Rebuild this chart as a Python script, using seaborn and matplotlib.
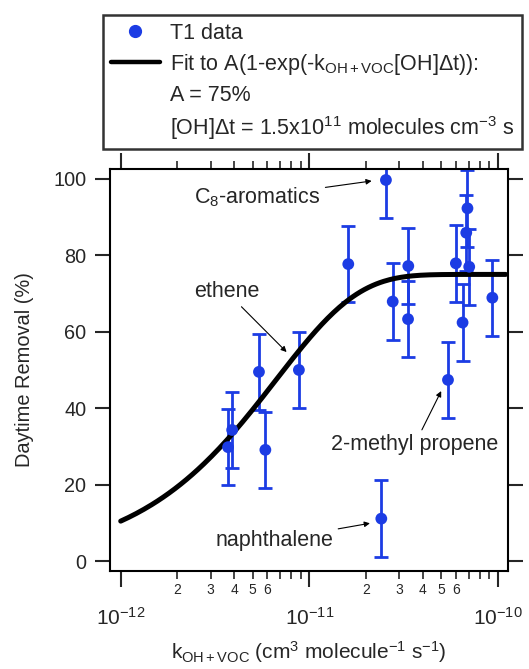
import numpy as np
import pandas as pd
import matplotlib
matplotlib.use("Agg")
import matplotlib.pyplot as plt
import seaborn as sns
from matplotlib.ticker import FixedLocator, FixedFormatter
from matplotlib.lines import Line2D

# ---- data ----
k_values = [3.71e-12, 3.9e-12, 5.41e-12, 5.85e-12, 8.81e-12, 1.61e-11, 2.55e-11,
            2.41e-11, 2.77e-11, 3.35e-11, 3.34e-11, 5.44e-11, 5.99e-11, 6.5e-11,
            6.9e-11, 6.8e-11, 7.05e-11, 9.35e-11]
removal = [29.8, 34.3, 49.5, 29.1, 50.0, 77.7, 99.7,
           11.1, 67.9, 77.2, 63.3, 47.4, 77.9, 62.4,
           92.3, 85.9, 77.0, 68.9]
removal_err = [10] * 18

fit_A = 75.0
fit_OHdt = 1.5e11
fit_k = np.logspace(-12, np.log10(1.1e-10), 200)
fit_y = fit_A * (1 - np.exp(-fit_k * fit_OHdt))

x_major = [1e-12, 1e-11, 1e-10]
x_major_labels = [r"$10^{-12}$", r"$10^{-11}$", r"$10^{-10}$"]
x_minor_mant = [2, 3, 4, 5, 6, 7, 8, 9]
x_minor_labelled = ["2", "3", "4", "5", "6", "", "", ""]
y_ticks = [0, 20, 40, 60, 80, 100]

labels = ["C$_8$-aromatics", "ethene", "2-methyl propene", "naphthalene"]
label_text_xy = [(5.32e-12, 95.3), (3.65e-12, 70.4), (3.61e-11, 30.4), (6.55e-12, 5.5)]
label_point_xy = [(2.33e-11, 99.7), (8.05e-12, 53.4), (5.2e-11, 46.1), (2.28e-11, 10.2)]

df = pd.DataFrame({"k": k_values, "removal": removal, "err": removal_err})
fit_df = pd.DataFrame({"k": fit_k, "y": fit_y})

# ---- style ----
sns.set_style("ticks")
plt.rcParams["font.family"] = ["Liberation Sans", "DejaVu Sans"]
plt.rcParams["mathtext.fontset"] = "custom"
plt.rcParams["mathtext.rm"] = "Liberation Sans"
plt.rcParams["mathtext.it"] = "Liberation Sans"
plt.rcParams["mathtext.bf"] = "Liberation Sans:bold"
plt.rcParams["mathtext.default"] = "regular"

blue = "#1c3ce4"

fig = plt.figure(figsize=(5.29, 6.69), dpi=100)
ax = fig.add_axes([0.208, 0.1465, 0.752, 0.601])

ax.errorbar(df["k"], df["removal"], yerr=df["err"], fmt="none", ecolor=blue,
            elinewidth=2.0, capsize=4.7, capthick=2.0, zorder=2)
sns.lineplot(data=fit_df, x="k", y="y", ax=ax, color="black", lw=3.6, zorder=3)
sns.scatterplot(data=df, x="k", y="removal", ax=ax, color=blue, s=72,
                edgecolor="none", zorder=4)

ax.set_xscale("log")
ax.set_xlim(10 ** -12.0566, 10 ** -9.947)
ax.set_ylim(-2.6, 102.6)

for txt, txy, pxy in zip(labels, label_text_xy, label_point_xy):
    ax.annotate(txt, xy=pxy, xytext=txy, ha="center", va="center",
                fontsize=15.5, zorder=5,
                arrowprops=dict(arrowstyle="-|>", color="black", lw=0.8,
                                mutation_scale=8, shrinkA=1, shrinkB=5))

# ticks
minor_pos, minor_lab = [], []
for dec in (1e-12, 1e-11):
    for m, lab in zip(x_minor_mant, x_minor_labelled):
        minor_pos.append(m * dec)
        minor_lab.append(lab)
ax.xaxis.set_major_locator(FixedLocator(x_major))
ax.xaxis.set_major_formatter(FixedFormatter(x_major_labels))
ax.xaxis.set_minor_locator(FixedLocator(minor_pos))
ax.xaxis.set_minor_formatter(FixedFormatter(minor_lab))
ax.set_yticks(y_ticks)

ax.tick_params(axis="x", which="major", direction="out", length=11.5, width=1.5,
               top=True, bottom=True, labelsize=15, pad=14)
ax.tick_params(axis="x", which="minor", direction="out", length=6, width=1.2,
               top=True, bottom=True, labelsize=10, pad=3)
ax.tick_params(axis="y", which="major", direction="out", length=11, width=1.5,
               left=True, right=True, labelsize=14.3, pad=6)
for sp in ax.spines.values():
    sp.set_linewidth(1.5)
    sp.set_color("black")

ax.set_xlabel(r"k$_{\mathrm{OH+VOC}}$ (cm$^{3}$ molecule$^{-1}$ s$^{-1}$)",
              fontsize=15, labelpad=8)
ax.set_ylabel("Daytime Removal (%)", fontsize=14.4, labelpad=14)

# legend above axes
handles = [
    Line2D([], [], marker="o", color=blue, linestyle="none", markersize=8.5),
    Line2D([], [], color="black", lw=3.2),
    Line2D([], [], color="none"),
    Line2D([], [], color="none"),
]
leg_labels = [
    "T1 data",
    r"Fit to A(1-exp(-k$_{\mathrm{OH+VOC}}$[OH]$\Delta$t)):",
    "A = 75%",
    r"[OH]$\Delta$t = 1.5x10$^{11}$ molecules cm$^{-3}$ s",
]
leg = fig.legend(handles, leg_labels, loc="upper left",
                 bbox_to_anchor=(0.1947, 0.9776), fontsize=15.5,
                 frameon=True, fancybox=False, edgecolor="black",
                 handlelength=2.3, handletextpad=0.45, labelspacing=0.38,
                 borderpad=0.35, borderaxespad=0)
leg.get_frame().set_linewidth(1.8)

fig.savefig("out.png", dpi=100)
